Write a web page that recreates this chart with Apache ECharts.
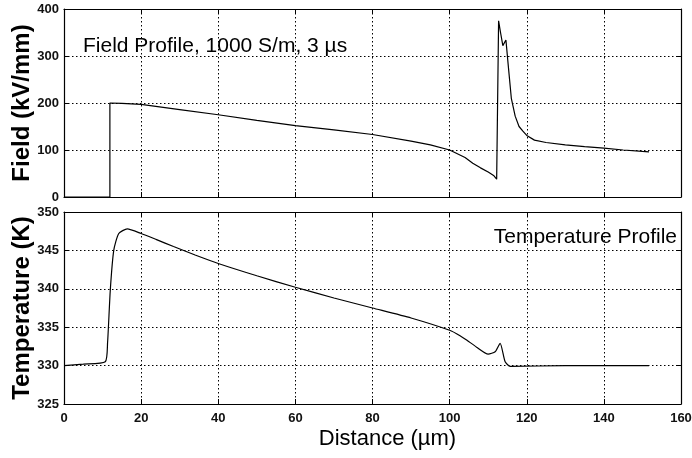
<!DOCTYPE html>
<html lang="en">
<head>
    <meta charset="UTF-8">
    <title>Field and Temperature Profile</title>
    <script src="https://cdn.jsdelivr.net/npm/echarts@6/dist/echarts.min.js"></script>
    <style>
        html, body { margin: 0; padding: 0; background: #fff; }
        #chart { width: 692px; height: 458px; }
    </style>
</head>
<body>
<div id="chart"></div>
<script>
    // field profile (kV/mm) vs distance (um)
    const fieldX = [0, 11.9, 11.9, 15, 20, 30, 40, 50, 60, 70, 80, 90, 95, 100, 104, 106, 108, 110, 111.5, 112.2,
        112.7, 113.2, 113.8, 114.6, 115.2, 116, 117, 118, 119, 120, 122, 125, 130, 135, 140, 145, 150, 151.7];
    const fieldY = [0, 0, 200, 199, 197, 186, 175, 163, 152, 143, 133, 119, 111, 100, 84, 72, 62, 53, 45, 38,
        375, 350, 322, 334, 280, 210, 172, 150, 140, 131, 121, 116, 111, 107, 104, 100, 97, 96];

    // temperature profile (K) vs distance (um)
    const tempX = [0, 5, 10.7, 11.3, 12, 12.9, 14.2, 16.4, 20, 24, 28.4, 34, 40, 50, 60, 70, 80, 90, 100, 102.7,
        104.5, 107, 110, 111.8, 113.1, 114.4, 115.7, 130, 151.7];
    const tempY = [330, 330.2, 330.5, 333, 339.8, 345, 347.2, 347.8, 347.2, 346.4, 345.5, 344.4, 343.3, 341.7, 340.2,
        338.8, 337.5, 336.2, 334.6, 333.9, 333.3, 332.4, 331.5, 331.8, 332.9, 330.5, 329.9, 330, 330];

    const xTicks = [0, 20, 40, 60, 80, 100, 120, 140, 160];
    const fieldTicks = [0, 100, 200, 300, 400];
    const tempTicks = [325, 330, 335, 340, 345, 350];

    const font = "'Liberation Sans', Arial, sans-serif";
    const zip = (xs, ys) => xs.map((x, i) => [x, ys[i]]);

    const dotted = { show: true, lineStyle: { color: '#000', type: [1.5, 2.5], width: 1 } };
    const box = { show: true, onZero: false, lineStyle: { color: '#000', width: 1.2 } };
    const tick = { show: true, inside: true, length: 5, lineStyle: { color: '#000' } };
    const label = { color: '#111', fontFamily: font, fontSize: 13, fontWeight: 'bold' };

    function xAxis(grid, pos, showLabels) {
        return {
            type: 'value', gridIndex: grid, position: pos,
            min: xTicks[0], max: xTicks[xTicks.length - 1], interval: 20,
            axisLine: box, axisTick: tick,
            splitLine: pos === 'bottom' ? dotted : { show: false },
            axisLabel: showLabels ? Object.assign({ margin: 8 }, label) : { show: false }
        };
    }
    function yAxis(grid, pos, ticks, showLabels) {
        return {
            type: 'value', gridIndex: grid, position: pos,
            min: ticks[0], max: ticks[ticks.length - 1], interval: ticks[1] - ticks[0],
            axisLine: box, axisTick: tick,
            splitLine: pos === 'left' ? dotted : { show: false },
            axisLabel: showLabels ? Object.assign({ margin: 5 }, label) : { show: false }
        };
    }

    const xAxes = [xAxis(0, 'bottom', false), xAxis(0, 'top', false), xAxis(1, 'bottom', true), xAxis(1, 'top', false)];
    xAxes[2].name = 'Distance (\u00b5m)';
    xAxes[2].nameLocation = 'middle';
    xAxes[2].nameGap = 24;
    xAxes[2].nameMoveOverlap = false;
    xAxes[2].nameTextStyle = { color: '#000', fontFamily: font, fontSize: 22, verticalAlign: 'top', padding: [0, 0, 0, 30] };

    const yAxes = [yAxis(0, 'left', fieldTicks, true), yAxis(0, 'right', fieldTicks, false),
        yAxis(1, 'left', tempTicks, true), yAxis(1, 'right', tempTicks, false)];
    yAxes[0].name = 'Field (kV/mm)';
    yAxes[2].name = 'Temperature (K)';
    [yAxes[0], yAxes[2]].forEach(a => {
        a.nameLocation = 'middle';
        a.nameGap = 30;
        a.nameMoveOverlap = false;
        a.nameTextStyle = { color: '#000', fontFamily: font, fontSize: 24, fontWeight: 'bold' };
    });

    const chart = echarts.init(document.getElementById('chart'));
    chart.setOption({
        animation: false,
        backgroundColor: '#fff',
        grid: [
            { left: 64, right: 11, top: 9, height: 188, outerBoundsMode: 'none' },
            { left: 64, right: 11, top: 212, height: 192, outerBoundsMode: 'none' }
        ],
        xAxis: xAxes,
        yAxis: yAxes,
        graphic: [
            { type: 'text', left: 83, top: 36,
              style: { text: 'Field Profile, 1000 S/m, 3 \u00b5s', fontFamily: font, fontSize: 21, fill: '#000' } },
            { type: 'text', right: 15, top: 227,
              style: { text: 'Temperature Profile', fontFamily: font, fontSize: 21, fill: '#000' } }
        ],
        series: [
            { type: 'line', xAxisIndex: 0, yAxisIndex: 0, data: zip(fieldX, fieldY),
              showSymbol: false, lineStyle: { color: '#000', width: 1.2 } },
            { type: 'line', xAxisIndex: 2, yAxisIndex: 2, data: zip(tempX, tempY), smooth: 0.2,
              showSymbol: false, lineStyle: { color: '#000', width: 1.2 } }
        ]
    });
</script>
</body>
</html>
